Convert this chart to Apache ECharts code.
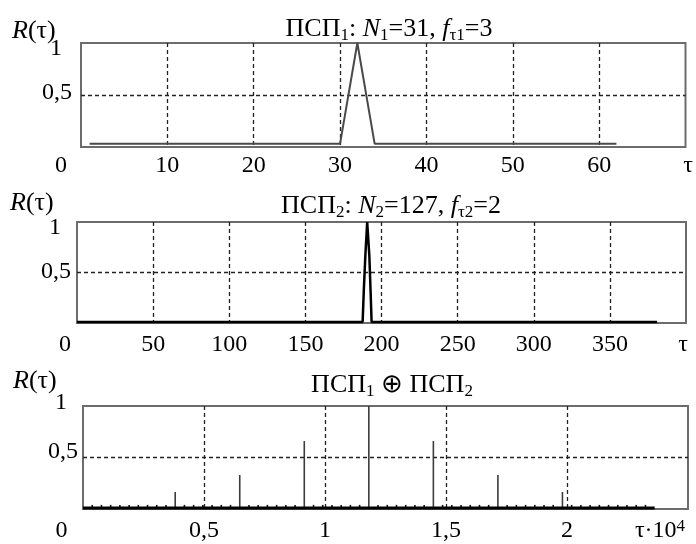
<!DOCTYPE html>
<html><head><meta charset="utf-8">
<script src="https://cdn.jsdelivr.net/npm/echarts@6/dist/echarts.min.js"></script>
<style>html,body{margin:0;padding:0;background:#fff}#c{width:696px;height:544px}</style>
</head><body><div id="c"></div>
<script>
// ---- Panel 1: PSP1, N1=31, f=3
const tau1 = [1, 30, 32, 34, 62];
const r1 = [0.032, 0.032, 1, 0.032, 0.032];
const ticks1 = [0, 10, 20, 30, 40, 50, 60, 70];
// ---- Panel 2: PSP2, N2=127, f=2
const tau2 = [0, 187.6, 188.4, 189.4, 190.6, 192.0, 192.8, 193.5, 381];
const r2 = [0.01, 0.01, 0.33, 0.67, 1, 0.67, 0.33, 0.01, 0.01];
const ticks2 = [0, 50, 100, 150, 200, 250, 300, 350, 400];
// ---- Panel 3: PSP1 xor PSP2
const chip3 = 381;
const lagIdx3 = [1,2,3,4,5,6,7,8,9,10,11,12,13,14,15,16,17,18,19,20,21,22,23,24,25,26,27,28,29,30,
  31,32,33,34,35,36,37,38,39,40,41,42,43,44,45,46,47,48,49,50,51,52,53,54,55,56,57,58,59,60,61];
const r3 = [0.04,0.04,0.04,0.04,0.04,0.04,0.04,0.04,0.04,0.165,
  0.04,0.04,0.04,0.04,0.04,0.04,0.33,
  0.04,0.04,0.04,0.04,0.04,0.04,0.66,
  0.04,0.04,0.04,0.04,0.04,0.04,1,
  0.04,0.04,0.04,0.04,0.04,0.04,0.66,
  0.04,0.04,0.04,0.04,0.04,0.04,0.33,
  0.04,0.04,0.04,0.04,0.04,0.04,0.165,
  0.04,0.04,0.04,0.04,0.04,0.04,0.04,0.04,0.04];
const base3Tau = [0, 23622];
const base3R = [0.01, 0.01];
const ticks3 = [0, 5000, 10000, 15000, 20000, 25000];

const FF = '"Liberation Serif","Times New Roman",serif';
const FS = 24;   // tick labels
const TS = 26;   // titles
const SS = 17;   // subscripts

const chart = echarts.init(document.getElementById('c'), null, {renderer: 'canvas'});

function tstyle(extra) {
  return Object.assign({fontFamily: FF, fontSize: TS, fontWeight: 'normal', color: '#000', lineHeight: 30}, extra || {});
}
const titleRich = {
  n: tstyle(),
  i: tstyle({fontStyle: 'italic'}),
  s: tstyle({fontSize: SS, verticalAlign: 'bottom'})
};

function mkTitle(text, left, top, align) {
  return {text: text, left: left, top: top, padding: 0, textAlign: align,
    textStyle: {rich: titleRich, fontFamily: FF, fontSize: TS, fontWeight: 'normal', lineHeight: 30}};
}

const splitStyle = {show: true, showMinLine: false, showMaxLine: false,
  lineStyle: {color: '#222', type: [4, 3], width: 1.3}};

function lbl(extra) {
  return Object.assign({fontFamily: FF, fontSize: FS, color: '#000', lineHeight: 26}, extra || {});
}

function xAxisFor(gi, ticks, fmt, margin, zeroPad, lastRich) {
  return {
    type: 'value', gridIndex: gi, min: ticks[0], max: ticks[ticks.length - 1],
    interval: ticks[1] - ticks[0],
    axisLine: {show: false}, axisTick: {show: false},
    splitLine: splitStyle,
    axisLabel: Object.assign(lbl(), {
      show: true, showMinLabel: true, showMaxLabel: true, margin: margin,
      hideOverlap: false,
      formatter: fmt,
      rich: Object.assign({z: lbl({padding: [0, zeroPad, 0, 0]})}, lastRich)
    })
  };
}

function yAxisFor(gi, margin, oneStyle, halfStyle) {
  return {
    type: 'value', gridIndex: gi, min: 0, max: 1, interval: 0.5,
    axisLine: {show: false}, axisTick: {show: false},
    splitLine: splitStyle,
    axisLabel: Object.assign(lbl(), {
      margin: margin,
      formatter: function (v) {
        if (v === 0) return '';
        if (v === 1) return '{o|1}';
        return '{h|0,5}';
      },
      rich: {o: lbl(oneStyle), h: lbl(halfStyle)}
    })
  };
}

const gridBase = {show: true, borderColor: '#6c6c6c', borderWidth: 2, backgroundColor: 'transparent',
  containLabel: false, outerBoundsMode: 'none'};

const lineData1 = tau1.map((t, i) => [t, r1[i]]);
const lineData2 = tau2.map((t, i) => [t, r2[i]]);
const barData3 = lagIdx3.map((k, i) => ({value: [k * chip3, r3[i]],
  itemStyle: {color: r3[i] > 0.1 ? '#3c3c3c' : '#111'}}));
const baseData3 = base3Tau.map((t, i) => [t, base3R[i]]);

const option = {
  animation: false,
  backgroundColor: '#fff',
  title: [
    mkTitle('{i|R}{n|(τ)}', 12, 16),
    mkTitle('{n|ПСП}{s|1}{n|: }{i|N}{s|1}{n|=31, }{i|f}{s|τ1}{n|=3}', 389, 14, 'center'),
    mkTitle('{i|R}{n|(τ)}', 10, 188),
    mkTitle('{n|ПСП}{s|2}{n|: }{i|N}{s|2}{n|=127, }{i|f}{s|τ2}{n|=2}', 391, 191, 'center'),
    mkTitle('{i|R}{n|(τ)}', 13, 366),
    mkTitle('{n|ПСП}{s|1}{n| ⊕ ПСП}{s|2}', 392, 370, 'center')
  ],
  grid: [
    Object.assign({left: 81, top: 43, width: 604.5, height: 104}, gridBase),
    Object.assign({left: 77, top: 222, width: 609, height: 101}, gridBase),
    Object.assign({left: 83, top: 406, width: 605, height: 103}, gridBase)
  ],
  xAxis: [
    xAxisFor(0, ticks1, function (v) {
      if (v === 0) return '{z|0}';
      if (v === 70) return '{tau|τ}';
      return String(v);
    }, 6, 40, {tau: lbl({padding: [0, 0, 0, 5]})}),
    xAxisFor(1, ticks2, function (v) {
      if (v === 0) return '{z|0}';
      if (v === 400) return '{tau|τ}';
      return String(v);
    }, 9, 24, {tau: lbl({padding: [0, 6, 0, 0]})}),
    xAxisFor(2, ticks3, function (v) {
      if (v === 0) return '{z|0}';
      if (v === 25000) return '{t|τ·10}{p|4}';
      return String(v / 10000).replace('.', ',');
    }, 9, 43, {
      t: lbl(),
      p: lbl({fontSize: SS, verticalAlign: 'top', padding: [0, 56, 0, 0]})
    })
  ],
  yAxis: [
    yAxisFor(0, 9, {padding: [12, 10, 0, 0]}, {padding: [0, 0, 4, 0]}),
    yAxisFor(1, 6, {padding: [12, 10, 0, 0]}, {padding: [0, 0, 2, 0]}),
    yAxisFor(2, 5, {padding: [0, 11, 6, 0]}, {padding: [0, 0, 12, 0]})
  ],
  series: [
    {type: 'line', xAxisIndex: 0, yAxisIndex: 0, data: lineData1, symbol: 'none',
      lineStyle: {color: '#4a4a4a', width: 2}},
    {type: 'line', xAxisIndex: 1, yAxisIndex: 1, data: lineData2, symbol: 'none',
      lineStyle: {color: '#000', width: 2.5}},
    {type: 'line', xAxisIndex: 2, yAxisIndex: 2, data: baseData3, symbol: 'none',
      lineStyle: {color: '#000', width: 3}},
    {type: 'bar', xAxisIndex: 2, yAxisIndex: 2, data: barData3, barWidth: 1.6}
  ]
};
chart.setOption(option);
</script>
</body></html>
